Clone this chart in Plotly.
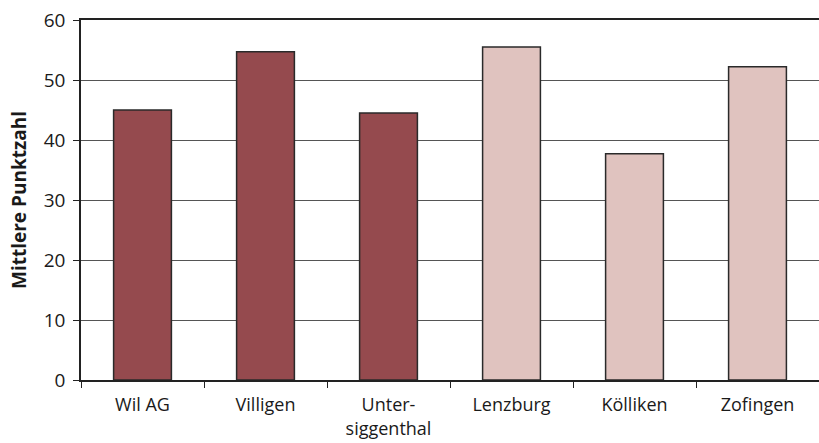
import plotly.graph_objects as go

orte = ["Wil AG", "Villigen", "Unter-<br>siggenthal", "Lenzburg", "Kölliken", "Zofingen"]
punktzahl = [45.0, 54.7, 44.5, 55.5, 37.7, 52.2]
gruppe = [0, 0, 0, 1, 1, 1]
y_ticks = [0, 10, 20, 30, 40, 50, 60]

farben = ["#954A4E", "#E0C3BF"]

fig = go.Figure(
    go.Bar(
        x=orte,
        y=punktzahl,
        width=0.47,
        marker=dict(
            color=[farben[g] for g in gruppe],
            line=dict(color="#2a2a2a", width=1.5),
        ),
    )
)

font_family = "Open Sans, Lato, sans-serif"

fig.update_layout(
    width=819,
    height=443,
    margin=dict(l=81, r=0, t=20, b=63),
    plot_bgcolor="white",
    paper_bgcolor="white",
    showlegend=False,
    font=dict(family=font_family, size=18, color="#1a1a1a"),
)

fig.update_xaxes(
    type="category",
    tickson="boundaries",
    ticks="outside",
    ticklen=6,
    tickwidth=1.2,
    tickcolor="#222",
    showline=True,
    mirror=True,
    linecolor="#222",
    linewidth=1.5,
    showgrid=False,
    automargin=False,
    ticklabelstandoff=8,
    tickfont=dict(size=18),
)

fig.update_yaxes(
    range=[0, 60],
    tickvals=y_ticks,
    ticks="outside",
    ticklen=6,
    tickwidth=1.2,
    tickcolor="#222",
    showline=True,
    linecolor="#222",
    linewidth=1.5,
    showgrid=True,
    gridcolor="#555",
    gridwidth=1,
    zeroline=False,
    automargin=False,
    ticklabelstandoff=4,
    tickfont=dict(size=19),
    title=dict(
        text="<b>Mittlere Punktzahl</b>",
        font=dict(size=19),
        standoff=12,
    ),
)

fig.write_html(
    "out.html",
    config={"displayModeBar": False},
    post_script="document.body.style.margin='0px';document.body.style.overflow='hidden';",
)
